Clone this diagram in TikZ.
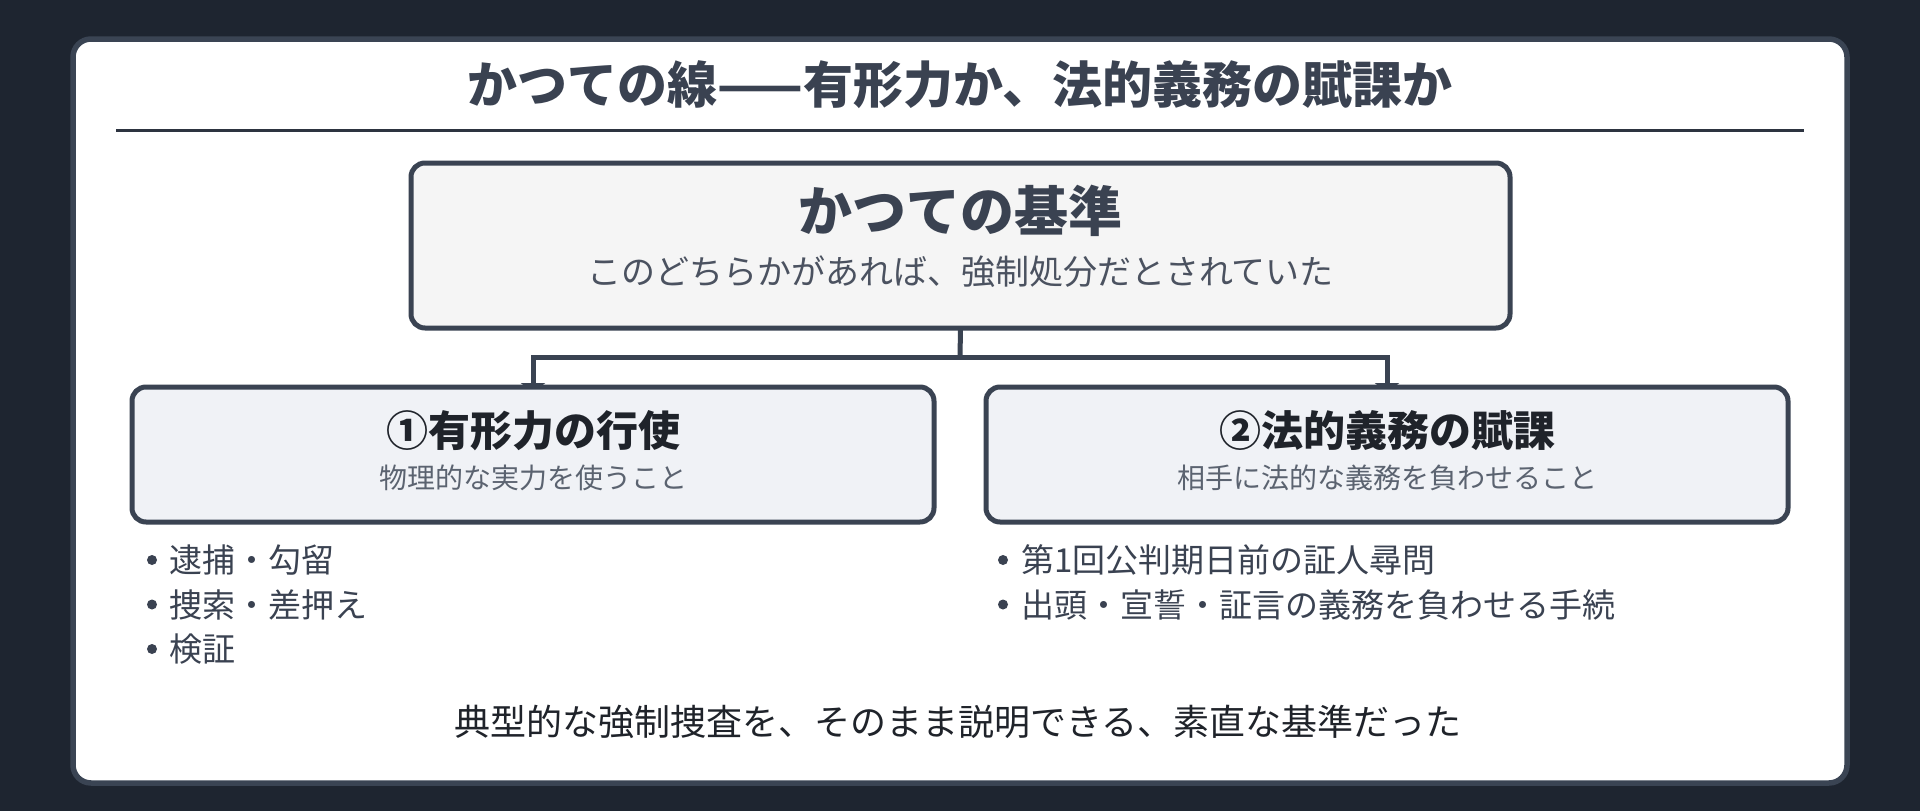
\documentclass[tikz,border=0pt]{standalone}
\usepackage{fontspec}
\setmainfont{Noto Sans CJK JP}
\usetikzlibrary{arrows.meta}
\definecolor{pagebg}{HTML}{1E2530}
\definecolor{cardline}{HTML}{3A4453}
\definecolor{inkdark}{HTML}{3A4251}
\definecolor{inkblack}{HTML}{1F232A}
\definecolor{inkgray}{HTML}{4B5260}
\definecolor{subgray}{HTML}{5B6370}
\definecolor{topfill}{HTML}{F5F5F5}
\definecolor{boxfill}{HTML}{F0F2F6}
\definecolor{boxline}{HTML}{3A4352}
\definecolor{ruleline}{HTML}{2D3440}
\pgfdeclarelayer{bg}
\pgfdeclarelayer{conn}
\pgfsetlayers{bg,conn,main}
\newcommand{\fs}[1]{\fontsize{#1}{#1}\selectfont}
\tikzset{
  px/.style={x=1pt,y=-1pt},
  boxshape/.style={draw=boxline, line width=5pt, rounded corners=14pt, inner sep=0pt, outer sep=0pt},
  topbox/.style={boxshape, fill=topfill},
  subbox/.style={boxshape, fill=boxfill},
  txt/.style={inner sep=0pt, outer sep=0pt, anchor=base},
  ltxt/.style={inner sep=0pt, outer sep=0pt, anchor=base west},
  conn/.style={draw=boxline, line width=5pt},
  dot/.style={circle, fill=inkdark, minimum size=10pt, inner sep=0pt}
}
\begin{document}
\begin{tikzpicture}[px]
\useasboundingbox (0,0) rectangle (1920,811);
\begin{pgfonlayer}{bg}
  \fill[pagebg] (0,0) rectangle (1920,811);
  \draw[cardline, fill=white, line width=5.5pt, rounded corners=18pt] (73,39) rectangle (1847,783);
\end{pgfonlayer}

% title and rule
\node[txt, text=inkdark] (title) at (960,103) {\fs{50}\bfseries かつての線——有形力か、法的義務の賦課か};
\draw[ruleline, line width=3pt] (116,130.5) -- (1804,130.5);

% boxes
\node[topbox, minimum width=1099pt, minimum height=165pt] (top) at (960.5,245.5) {};
\node[subbox, minimum width=802pt, minimum height=135pt] (b1) at (533,454.5) {};
\node[subbox, minimum width=802pt, minimum height=135pt] (b2) at (1387,454.5) {};

% box texts
\node[txt, text=inkdark] (toptitle) at (960.5,231) {\fs{54}\bfseries かつての基準};
\node[txt, text=inkgray] (topsub) at (960.5,284) {\fs{34}このどちらかがあれば、強制処分だとされていた};
\node[txt, text=inkblack] (b1title) at (533,446) {\fs{42}\bfseries ①有形力の行使};
\node[txt, text=subgray] (b1sub) at (533,488) {\fs{28}物理的な実力を使うこと};
\node[txt, text=inkblack] (b2title) at (1387,446) {\fs{42}\bfseries ②法的義務の賦課};
\node[txt, text=subgray] (b2sub) at (1387,488) {\fs{28}相手に法的な義務を負わせること};

% connectors
\coordinate (j) at (960,357.5);
\begin{pgfonlayer}{conn}
  \draw[conn] (top.south) -- (j);
  \draw[conn, -{Triangle[width=24pt,length=10pt]}] (j) -| ([yshift=-6pt]b1.north);
  \draw[conn, -{Triangle[width=24pt,length=10pt]}] (j) -| ([yshift=-6pt]b2.north);
\end{pgfonlayer}

% bullets left
\node[dot] (d1) at (152,560) {};
\node[ltxt, text=inkdark] (l1) at (169,572.5) {\fs{33}逮捕・勾留};
\node[dot] (d2) at (152,604.5) {};
\node[ltxt, text=inkdark] (l2) at (169,617) {\fs{33}捜索・差押え};
\node[dot] (d3) at (152,649) {};
\node[ltxt, text=inkdark] (l3) at (169,661.5) {\fs{33}検証};

% bullets right
\node[dot] (d4) at (1003,560) {};
\node[ltxt, text=inkdark] (r1) at (1021,572.5) {\fs{33}第1回公判期日前の証人尋問};
\node[dot] (d5) at (1003,604.5) {};
\node[ltxt, text=inkdark] (r2) at (1021,617) {\fs{33}出頭・宣誓・証言の義務を負わせる手続};

% bottom
\node[txt, text=inkblack] (bottom) at (958,735.5) {\fs{36}典型的な強制捜査を、そのまま説明できる、素直な基準だった};
\end{tikzpicture}
\end{document}
